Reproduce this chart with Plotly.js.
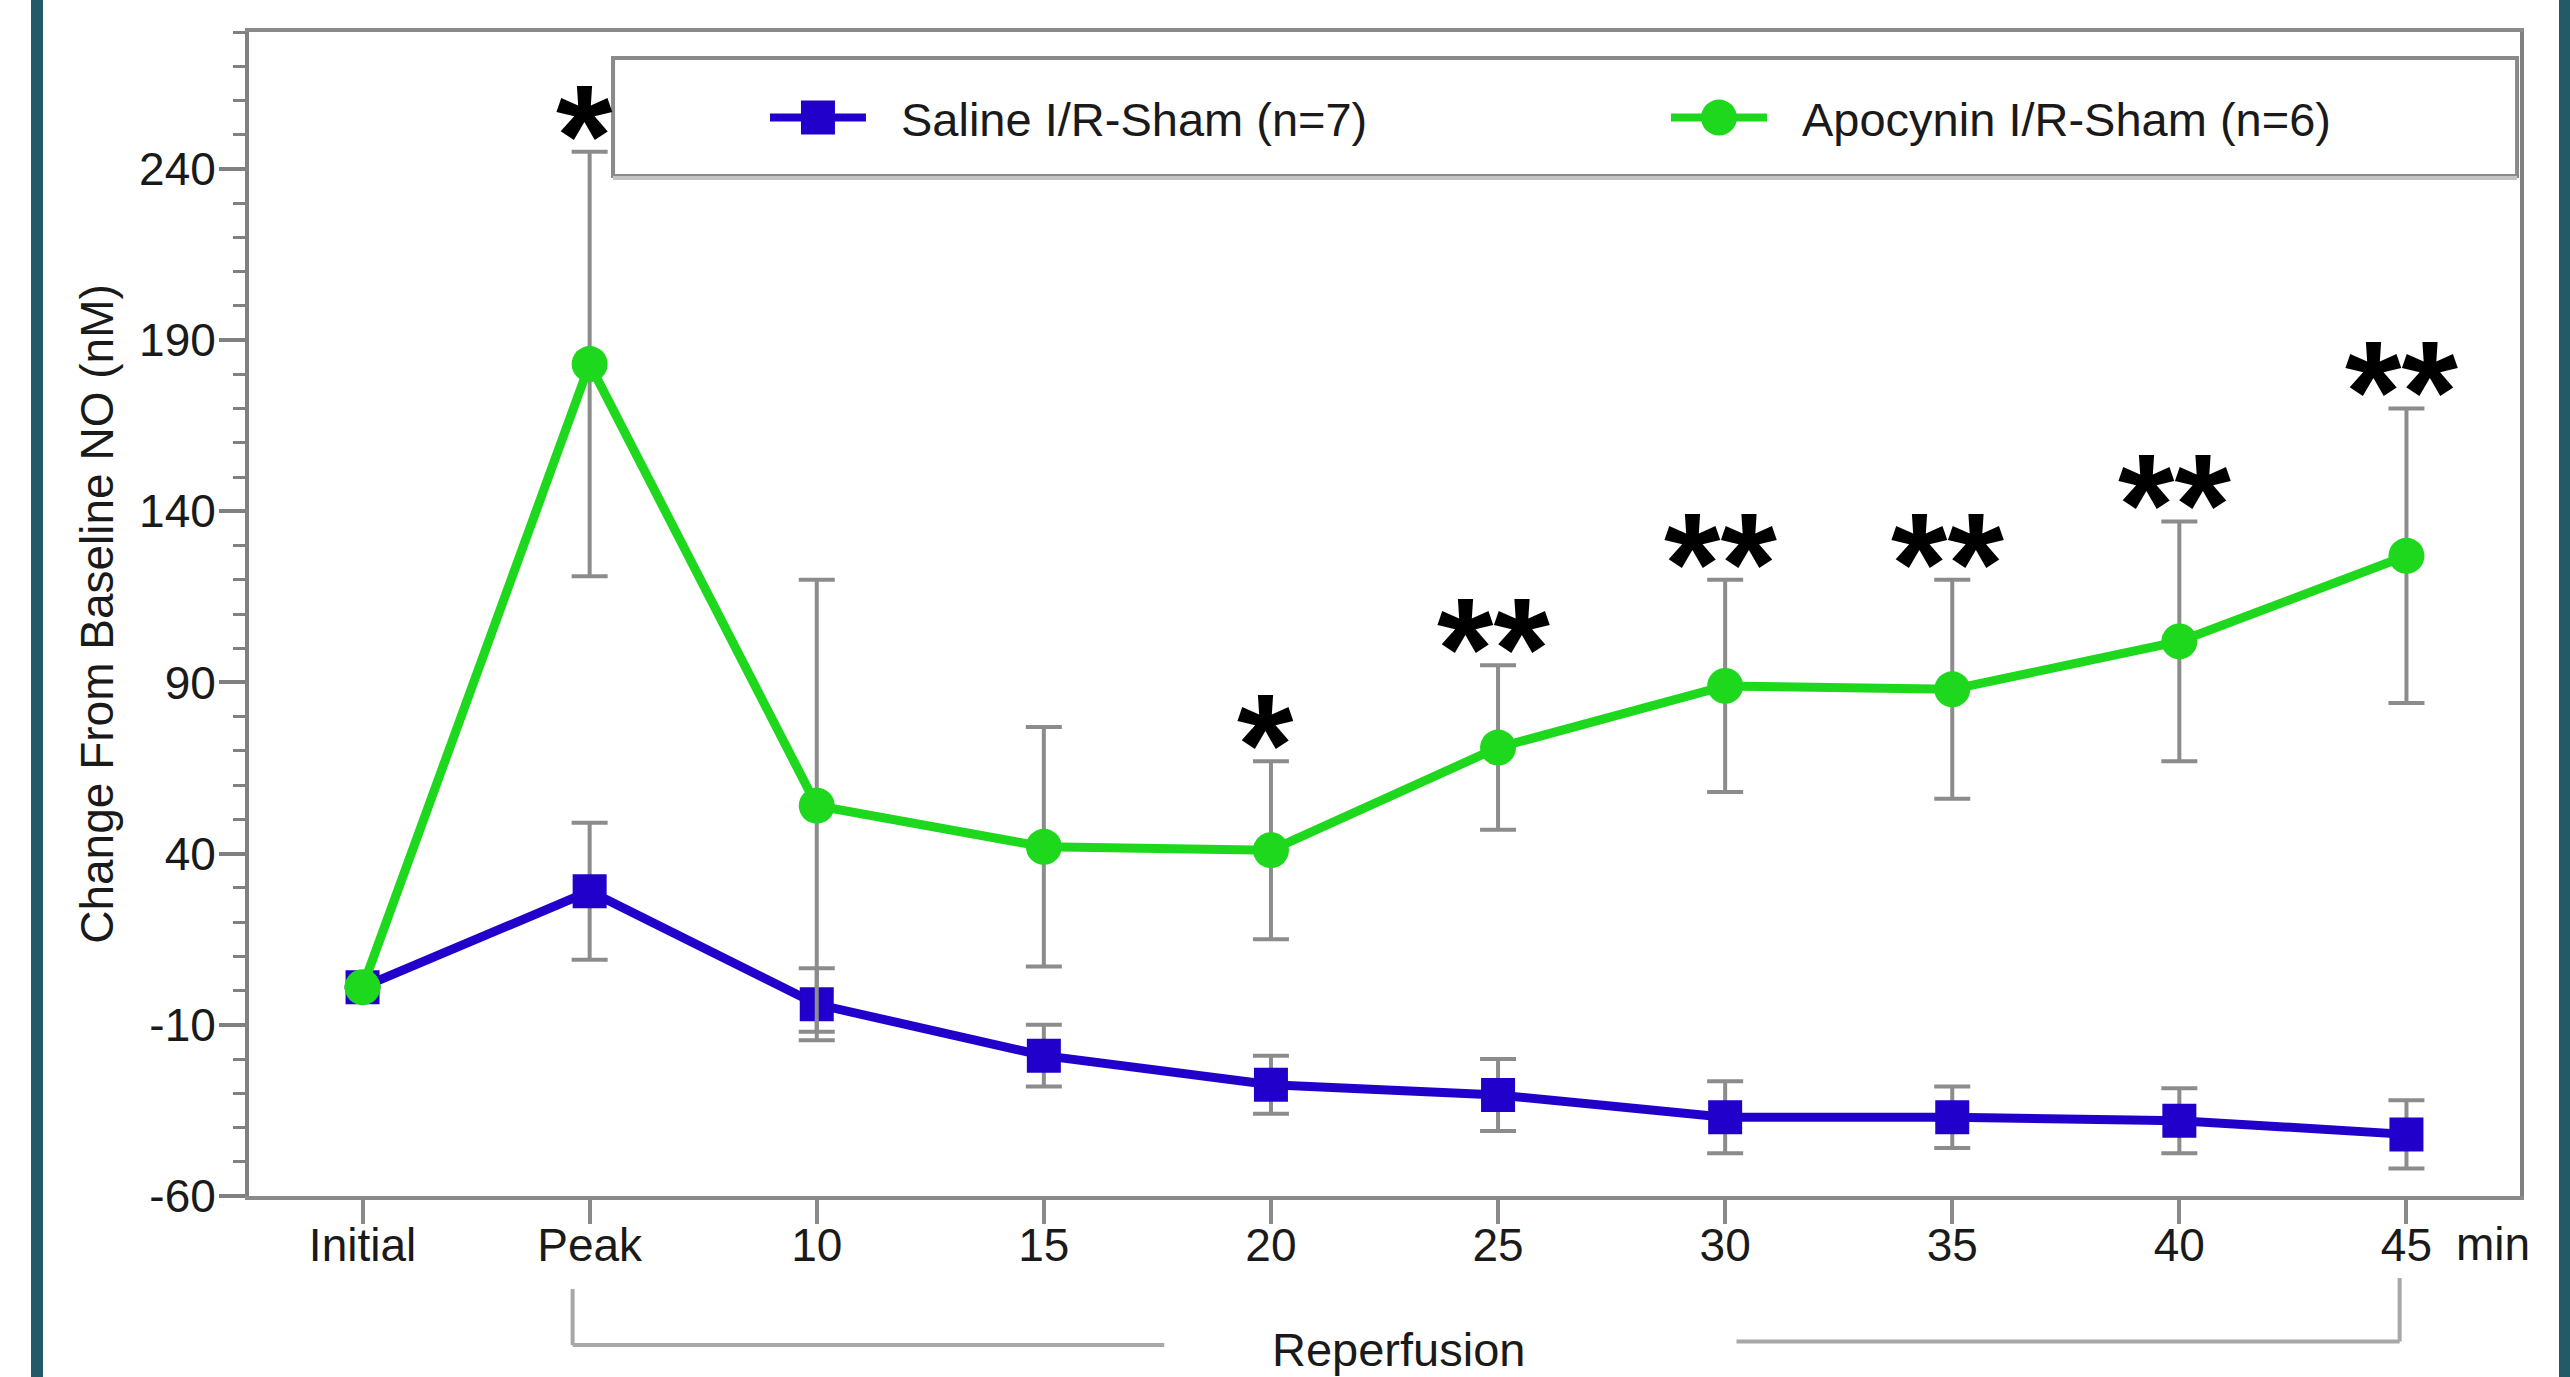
<!DOCTYPE html>
<html><head><meta charset="utf-8">
<script src="https://cdn.plot.ly/plotly-3.0.1.min.js"></script>
<style>
html,body{margin:0;padding:0;background:#fff;overflow:hidden}
#chart{position:absolute;left:0;top:0;width:2570px;height:1377px}
.stripe{position:absolute;top:0;height:1377px;background:#235a68}
</style></head><body>
<div id="chart"></div>
<div class="stripe" style="left:31px;width:12px"></div>
<div class="stripe" style="left:2559px;width:11px"></div>
<script>
// ---- data ----
const categories = ['Initial', 'Peak', '10', '15', '20', '25', '30', '35', '40', '45'];
const salineMean = [1, 29, -4, -19, -27.5, -30.5, -37, -37, -38, -42];
const salineSEM = [null, 20, 10.5, 9, 8.5, 10.5, 10.5, 9, 9.5, 10];
const apocyninMean = [1, 183, 54, 42, 41, 71, 89, 88, 102, 127];
const apocyninSEM = [null, 62, 66, 35, 26, 24, 31, 32, 35, 43];
const significance = ['', '*', '', '', '*', '**', '**', '**', '**', '**'];
const seriesNames = ['Saline I/R-Sham (n=7)', 'Apocynin I/R-Sham (n=6)'];
const yTickVals = [-60, -10, 40, 90, 140, 190, 240];
const yTickText = ['-60', '-10', '40', '90', '140', '190', '240'];
const yRange = [-60, 280];
const yTitle = 'Change From Baseline NO (nM)';
const lastTickSuffix = 'min';
const bracketLabel = 'Reperfusion';

const FONT = 'Liberation Sans, Arial, Helvetica, sans-serif';
const BLUE = '#2200cc', GREEN = '#1ed81e', ERR = '#8c8c8c';

const errStyle = (arr) => ({type: 'data', array: arr, visible: true, color: ERR, thickness: 4, width: 18});

const data = [
  {x: categories, y: salineMean, name: seriesNames[0], type: 'scatter', mode: 'lines+markers',
   line: {color: BLUE, width: 9}, marker: {symbol: 'square', size: 34, color: BLUE},
   error_y: errStyle(salineSEM)},
  {x: categories, y: apocyninMean, name: seriesNames[1], type: 'scatter', mode: 'lines+markers',
   line: {color: GREEN, width: 9}, marker: {symbol: 'circle', size: 36, color: GREEN},
   error_y: errStyle(apocyninSEM)}
];

const annotations = [];
categories.forEach((c, i) => {
  if (significance[i]) {
    annotations.push({x: i, y: apocyninMean[i] + apocyninSEM[i] + 13.5, xref: 'x', yref: 'y',
      text: '<b>' + significance[i] + '</b>', showarrow: false, xanchor: 'center', yanchor: 'middle',
      xshift: -5, yshift: -30, font: {family: FONT, size: 145, color: '#000'}});
  }
});
annotations.push({x: 4.56, y: -0.132, xref: 'x', yref: 'paper', text: bracketLabel, showarrow: false,
  xanchor: 'center', yanchor: 'middle', font: {family: FONT, size: 47, color: '#1a1a1a'}});
annotations.push({x: categories.length - 1, y: -0.041, xref: 'x', yref: 'paper', text: lastTickSuffix,
  showarrow: false, xanchor: 'left', yanchor: 'middle', xshift: 48, font: {family: FONT, size: 46, color: '#1a1a1a'}});

const BR = '#a8a8a8';
const shapes = [
  // legend frame
  {type: 'rect', xref: 'paper', yref: 'paper', x0: 0.1603, x1: 0.9987, y0: 0.8763, y1: 0.9777,
   line: {color: '#8a8a8a', width: 4}, fillcolor: '#ffffff', layer: 'below'},
  {type: 'line', xref: 'paper', yref: 'paper', x0: 0.1603, x1: 0.9987, y0: 0.8745, y1: 0.8745,
   line: {color: '#c4c4c4', width: 4}},
  // reperfusion bracket
  {type: 'line', xref: 'x', yref: 'paper', x0: 0.925, x1: 0.925, y0: -0.080, y1: -0.128, line: {color: BR, width: 4}},
  {type: 'line', xref: 'x', yref: 'paper', x0: 0.925, x1: 3.53, y0: -0.128, y1: -0.128, line: {color: BR, width: 4}},
  {type: 'line', xref: 'x', yref: 'paper', x0: 6.05, x1: 8.97, y0: -0.125, y1: -0.125, line: {color: BR, width: 4}},
  {type: 'line', xref: 'x', yref: 'paper', x0: 8.97, x1: 8.97, y0: -0.0705, y1: -0.125, line: {color: BR, width: 4}}
];

const layout = {
  width: 2570, height: 1377,
  margin: {l: 249, r: 50, t: 32, b: 181, pad: 0, autoexpand: false},
  paper_bgcolor: '#ffffff', plot_bgcolor: '#ffffff',
  font: {family: FONT, size: 46, color: '#1a1a1a'},
  showlegend: true,
  legend: {orientation: 'h', x: 0.2272, xanchor: 'left', y: 0.9261, yanchor: 'middle',
    bgcolor: 'rgba(0,0,0,0)', borderwidth: 0, font: {family: FONT, size: 47, color: '#1a1a1a'},
    itemwidth: 126, entrywidth: 760, traceorder: 'normal'},
  xaxis: {type: 'category', categoryorder: 'array', categoryarray: categories, range: [-0.5, 9.5],
    showline: true, linecolor: '#8a8a8a', linewidth: 4, mirror: true,
    ticks: 'outside', ticklen: 24, tickwidth: 4, tickcolor: '#8a8a8a', ticklabelstandoff: -18,
    showgrid: false, zeroline: false, tickfont: {family: FONT, size: 46, color: '#1a1a1a'}},
  yaxis: {range: yRange, tickmode: 'array', tickvals: yTickVals, ticktext: yTickText,
    showline: true, linecolor: '#808080', linewidth: 4, mirror: true,
    ticks: 'outside', ticklen: 26, tickwidth: 4, tickcolor: '#808080', ticklabelstandoff: -6,
    minor: {tickmode: 'linear', tick0: yRange[0], dtick: 10, ticks: 'outside', ticklen: 12, tickwidth: 3, tickcolor: '#808080', showgrid: false},
    showgrid: false, zeroline: false, tickfont: {family: FONT, size: 46, color: '#1a1a1a'},
    title: {text: yTitle, font: {family: FONT, size: 46, color: '#1a1a1a'}, standoff: 12}},
  shapes: shapes,
  annotations: annotations
};

const gd = document.getElementById('chart');
Plotly.newPlot(gd, data, layout, {staticPlot: true, displayModeBar: false}).then(() => {
  try {
    gd.querySelectorAll('.legend .traces').forEach((g, i) => {
      const ln = g.querySelector('.legendlines path');
      if (ln) { ln.setAttribute('d', 'M5,0h96'); ln.style.strokeWidth = '8px'; }
      const p = g.querySelector('.legendpoints path.scatterpts');
      if (p) {
        const r = i === 0 ? 17 : 18;
        p.setAttribute('d', i === 0
          ? `M${r},${r}H-${r}V-${r}H${r}Z`
          : `M${r},0A${r},${r} 0 1,1 0,-${r}A${r},${r} 0 0,1 ${r},0Z`);
        p.setAttribute('transform', 'translate(53,0)');
      }
    });
  } catch (e) { console.log(e); }
});
</script>
</body></html>
